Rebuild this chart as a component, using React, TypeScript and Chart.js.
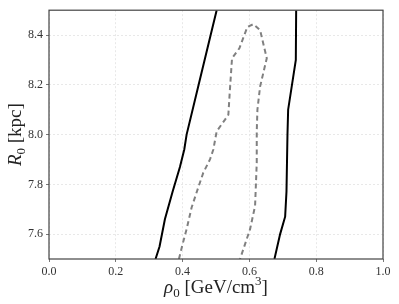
import React, { useEffect, useRef } from "react";
import { Chart, registerables } from "chart.js";

Chart.register(...registerables);

// Outer (solid black) contour, left branch
const leftSolidRho = [0.319, 0.331, 0.347, 0.370, 0.392, 0.405, 0.412, 0.448, 0.484, 0.502];
const leftSolidR = [7.5, 7.55, 7.66, 7.77, 7.87, 7.94, 8.0, 8.2, 8.4, 8.5];
// Outer (solid black) contour, right branch
const rightSolidRho = [0.675, 0.692, 0.707, 0.711, 0.714, 0.716, 0.739, 0.740];
const rightSolidR = [7.5, 7.6, 7.67, 7.77, 8.0, 8.1, 8.3, 8.5];
// Inner (dashed gray) contour
const innerRho = [0.389, 0.400, 0.412, 0.427, 0.445, 0.462, 0.482, 0.492, 0.502, 0.527, 0.537, 0.541, 0.548, 0.570, 0.594, 0.612, 0.632, 0.652, 0.632, 0.624, 0.622, 0.622, 0.617, 0.602, 0.572];
const innerR = [7.5, 7.56, 7.62, 7.707, 7.78, 7.847, 7.9, 7.94, 8.013, 8.06, 8.08, 8.167, 8.307, 8.347, 8.433, 8.444, 8.42, 8.307, 8.193, 8.10, 8.013, 7.887, 7.713, 7.62, 7.5];

const xMin = 0, xMax = 1;
const yMin = 7.5, yMax = 8.5;
const xTicks = [0.0, 0.2, 0.4, 0.6, 0.8, 1.0];
const yTicks = [7.6, 7.8, 8.0, 8.2, 8.4];

const FONT = "'Liberation Serif', 'DejaVu Serif', serif";

const pts = (xs: number[], ys: number[]) => xs.map((x, i) => ({ x, y: ys[i] }));

const framePlugin = {
  id: "frameAndTitles",
  afterDraw(chart: any) {
    const { ctx, chartArea } = chart;
    const { left, right, top, bottom } = chartArea;
    ctx.save();
    ctx.strokeStyle = "#444";
    ctx.lineWidth = 1.2;
    ctx.strokeRect(left, top, right - left, bottom - top);

    ctx.fillStyle = "#222";
    ctx.textBaseline = "alphabetic";
    const big = "19px " + FONT;
    const bigIt = "italic 19px " + FONT;
    const small = "13px " + FONT;
    // X title: rho_0 [GeV/cm^3]
    const parts: [string, string, number][] = [
      ["ρ", bigIt, 0],
      ["0", small, 4],
      [" [GeV/cm", big, 0],
      ["3", small, -8],
      ["]", big, 0],
    ];
    let total = 0;
    for (const [t, f] of parts) { ctx.font = f; total += ctx.measureText(t).width; }
    let x = (left + right) / 2 - total / 2;
    const by = 293;
    for (const [t, f, dy] of parts) {
      ctx.font = f;
      ctx.fillText(t, x, by + dy);
      x += ctx.measureText(t).width;
    }
    // Y title: R_0 [kpc]
    const yparts: [string, string, number][] = [
      ["R", bigIt, 0],
      ["0", small, 4],
      [" [kpc]", big, 0],
    ];
    let ytotal = 0;
    for (const [t, f] of yparts) { ctx.font = f; ytotal += ctx.measureText(t).width; }
    ctx.translate(21, (top + bottom) / 2);
    ctx.rotate(-Math.PI / 2);
    let yx = -ytotal / 2;
    for (const [t, f, dy] of yparts) {
      ctx.font = f;
      ctx.fillText(t, yx, dy);
      yx += ctx.measureText(t).width;
    }
    ctx.restore();
  },
};

export default function App() {
  const ref = useRef<HTMLCanvasElement | null>(null);
  useEffect(() => {
    if (!ref.current) return;
    const chart = new Chart(ref.current, {
      type: "scatter",
      data: {
        datasets: [
          {
            data: pts(leftSolidRho, leftSolidR),
            showLine: true,
            borderColor: "#000",
            borderWidth: 2,
            pointRadius: 0,
            tension: 0,
          },
          {
            data: pts(rightSolidRho, rightSolidR),
            showLine: true,
            borderColor: "#000",
            borderWidth: 2,
            pointRadius: 0,
            tension: 0,
          },
          {
            data: pts(innerRho, innerR),
            showLine: true,
            borderColor: "#808080",
            borderWidth: 2,
            borderDash: [5, 3.5],
            pointRadius: 0,
            tension: 0,
          },
        ],
      },
      plugins: [framePlugin],
      options: {
        animation: false,
        responsive: false,
        maintainAspectRatio: false,
        layout: { padding: { top: 9, right: 16, left: 0, bottom: 0 } },
        plugins: { legend: { display: false }, tooltip: { enabled: false } },
        scales: {
          x: {
            type: "linear",
            min: xMin,
            max: xMax,
            afterBuildTicks: (s: any) => { s.ticks = xTicks.map((v) => ({ value: v })); },
            ticks: {
              font: { family: FONT, size: 12 },
              color: "#333",
              padding: 3,
              maxRotation: 0,
              autoSkip: false,
              callback: (v: any) => Number(v).toFixed(1),
            },
            grid: {
              color: "#e2e2e2",
              lineWidth: 0.8,
              tickColor: "#555",
              tickLength: 3,
            },
            border: { display: false, dash: [2, 2] },
            afterFit: (s: any) => { s.height = 45; },
          },
          y: {
            type: "linear",
            min: yMin,
            max: yMax,
            afterBuildTicks: (s: any) => { s.ticks = yTicks.map((v) => ({ value: v })); },
            ticks: {
              font: { family: FONT, size: 12 },
              color: "#333",
              padding: 3,
              autoSkip: false,
              callback: (v: any) => Number(v).toFixed(1),
            },
            grid: {
              color: "#e2e2e2",
              lineWidth: 0.8,
              tickColor: "#555",
              tickLength: 3,
            },
            border: { display: false, dash: [2, 2] },
            afterFit: (s: any) => { s.width = 49; },
          },
        },
      },
    });
    return () => chart.destroy();
  }, []);
  return (
    <div style={{ position: "fixed", left: 0, top: 0, width: 399, height: 304, background: "#fff" }}>
      <canvas ref={ref} width={399} height={304} style={{ width: 399, height: 304, display: "block" }} />
    </div>
  );
}
